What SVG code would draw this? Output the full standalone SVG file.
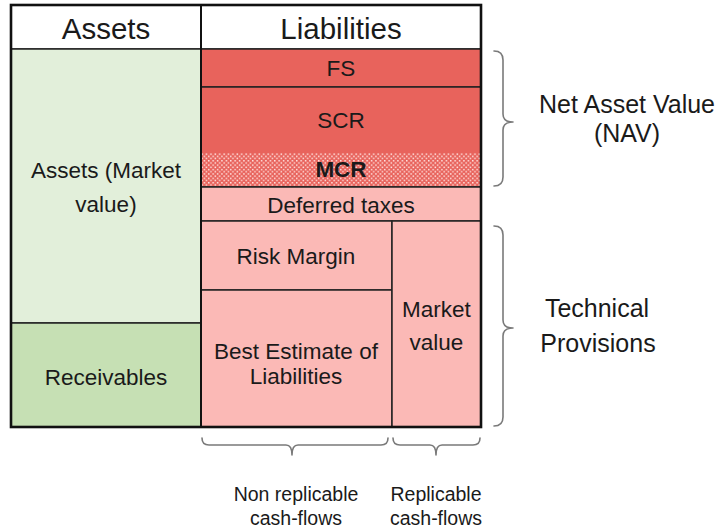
<svg xmlns="http://www.w3.org/2000/svg" width="721" height="531" viewBox="0 0 721 531">
  <style>
    .cell { stroke: #222; stroke-width: 1.5; }
    .red { fill: #E8635C; }
    .pink { fill: #FBB9B6; }
    .green1 { fill: #E2EFDA; }
    .green2 { fill: #C6E0B4; }
    .head { fill: #FFFFFF; }
    text { font-family: "Liberation Sans", Arial, sans-serif; fill: #1a1a1a; text-anchor: middle; }
    .h { font-size: 29.5px; }
    .b { font-size: 22.5px; }
    .side { font-size: 25px; }
    .foot { font-size: 19.5px; }
    .brace { fill: none; stroke: #7a7a7a; stroke-width: 1.6; stroke-linecap: round; stroke-linejoin: round; }
  </style>
  <defs>
    <!-- white dot fill used for the MCR band -->
    <pattern id="dots" x="201" y="153" width="4.4" height="4.4" patternUnits="userSpaceOnUse">
      <rect width="4.4" height="4.4" fill="#E8635C"/>
      <rect x="0.4" y="0.4" width="1.5" height="1.5" fill="#FFE2E0"/>
      <rect x="2.6" y="2.6" width="1.5" height="1.5" fill="#FFE2E0"/>
    </pattern>
  </defs>

  <rect width="721" height="531" fill="#FFFFFF"/>

  <!-- Assets column -->
  <g id="assets-header">
    <rect class="cell head" x="11" y="5" width="190" height="44"/>
    <text class="h" x="106" y="39">Assets</text>
  </g>
  <g id="assets-market">
    <rect class="cell green1" x="11" y="49" width="190" height="274"/>
    <text class="b" x="106" y="178">Assets (Market</text>
    <text class="b" x="106" y="212">value)</text>
  </g>
  <g id="receivables">
    <rect class="cell green2" x="11" y="323" width="190" height="104"/>
    <text class="b" x="106" y="385">Receivables</text>
  </g>

  <!-- Liabilities column -->
  <g id="liabilities-header">
    <rect class="cell head" x="201" y="5" width="280" height="44"/>
    <text class="h" x="341" y="39">Liabilities</text>
  </g>
  <g id="fs">
    <rect class="cell red" x="201" y="49" width="280" height="38"/>
    <text class="b" x="341" y="76">FS</text>
  </g>
  <g id="scr">
    <rect class="red" x="201" y="87" width="280" height="66"/>
    <rect x="201" y="153" width="280" height="34" fill="url(#dots)"/>
    <rect class="cell" fill="none" x="201" y="87" width="280" height="100"/>
    <text class="b" x="341" y="128">SCR</text>
  </g>
  <g id="mcr">
    <text class="b" x="341" y="177" font-weight="bold">MCR</text>
  </g>
  <g id="deferred-taxes">
    <rect class="cell pink" x="201" y="187" width="280" height="34"/>
    <text class="b" x="341" y="213">Deferred taxes</text>
  </g>
  <g id="risk-margin">
    <rect class="cell pink" x="201" y="221" width="191" height="69"/>
    <text class="b" x="296" y="264">Risk Margin</text>
  </g>
  <g id="best-estimate">
    <rect class="cell pink" x="201" y="290" width="191" height="137"/>
    <text class="b" x="296" y="359">Best Estimate of</text>
    <text class="b" x="296" y="384">Liabilities</text>
  </g>
  <g id="market-value">
    <rect class="cell pink" x="392" y="221" width="89" height="206"/>
    <text class="b" x="436.5" y="317">Market</text>
    <text class="b" x="436.5" y="350">value</text>
  </g>

  <!-- outer frame -->
  <rect x="11" y="5" width="470" height="422" fill="none" stroke="#111" stroke-width="2.6"/>
  <line x1="201" y1="5" x2="201" y2="427" stroke="#111" stroke-width="2"/>

  <!-- braces -->
  <g id="braces">
    <path class="brace" d="M494,51 Q503,51 503,60 L503,114 Q503,122 513,122 Q503,122 503,130 L503,177 Q503,186 494,186"/>
    <path class="brace" d="M494,226 Q503,226 503,235 L503,320 Q503,328 513,328 Q503,328 503,336 L503,417 Q503,426 494,426"/>
    <path class="brace" d="M202,438 Q202,445 209,445 L286,445 Q292,445 292,455 Q292,445 298,445 L381,445 Q388,445 388,438"/>
    <path class="brace" d="M393,438 Q393,445 400,445 L430,445 Q436,445 436,455 Q436,445 442,445 L473,445 Q480,445 480,438"/>
  </g>

  <!-- labels beside the table -->
  <g id="nav-label">
    <text class="side" x="627" y="113">Net Asset Value</text>
    <text class="side" x="627" y="142">(NAV)</text>
  </g>
  <g id="tp-label">
    <text class="side" x="597" y="317">Technical</text>
    <text class="side" x="598" y="352">Provisions</text>
  </g>
  <g id="non-replicable">
    <text class="foot" x="296" y="501">Non replicable</text>
    <text class="foot" x="296" y="525">cash-flows</text>
  </g>
  <g id="replicable">
    <text class="foot" x="436" y="501">Replicable</text>
    <text class="foot" x="436" y="525">cash-flows</text>
  </g>
</svg>
